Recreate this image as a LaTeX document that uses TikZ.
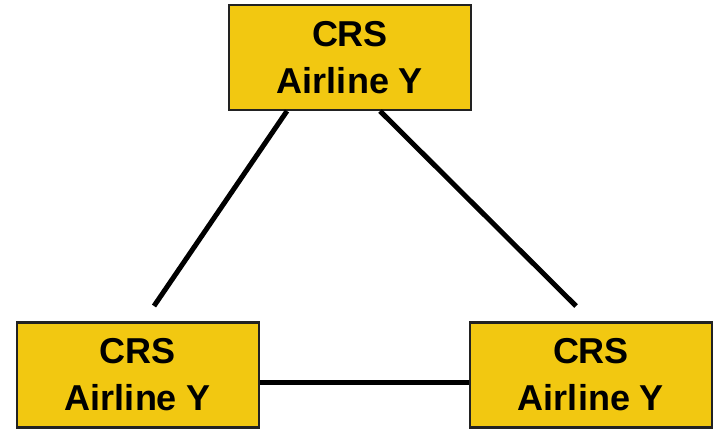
\documentclass[tikz,border=0pt]{standalone}
\usepackage{fontspec}
\setmainfont{Liberation Sans}
\definecolor{crsyellow}{HTML}{F2C811}
\definecolor{crsborder}{HTML}{222222}
\begin{document}
\begin{tikzpicture}[x=1pt,y=-1pt,
  crsbox/.style={draw=crsborder, line width=2.2pt, fill=crsyellow, rectangle,
    minimum width=242pt, minimum height=105pt, inner sep=0pt, align=center,
    font=\fontsize{36}{47}\selectfont\bfseries},
  link/.style={line width=5pt, black}]
\useasboundingbox (0,0) rectangle (719,429);
\node[crsbox] (top) at (350,57.5) {CRS\\Airline Y};
\node[crsbox] (bl) at (138,375) {CRS\\Airline Y};
\node[crsbox] (br) at (591,375) {CRS\\Airline Y};
\coordinate (t1) at (287,111);
\coordinate (t2) at (380,111);
\coordinate (e1) at (154,306);
\coordinate (e2) at (576,306);
\draw[link] (t1) -- (e1);
\draw[link] (t2) -- (e2);
\draw[link] ([yshift=-7pt]bl.east) -- ([yshift=-7pt]br.west);
\end{tikzpicture}
\end{document}
